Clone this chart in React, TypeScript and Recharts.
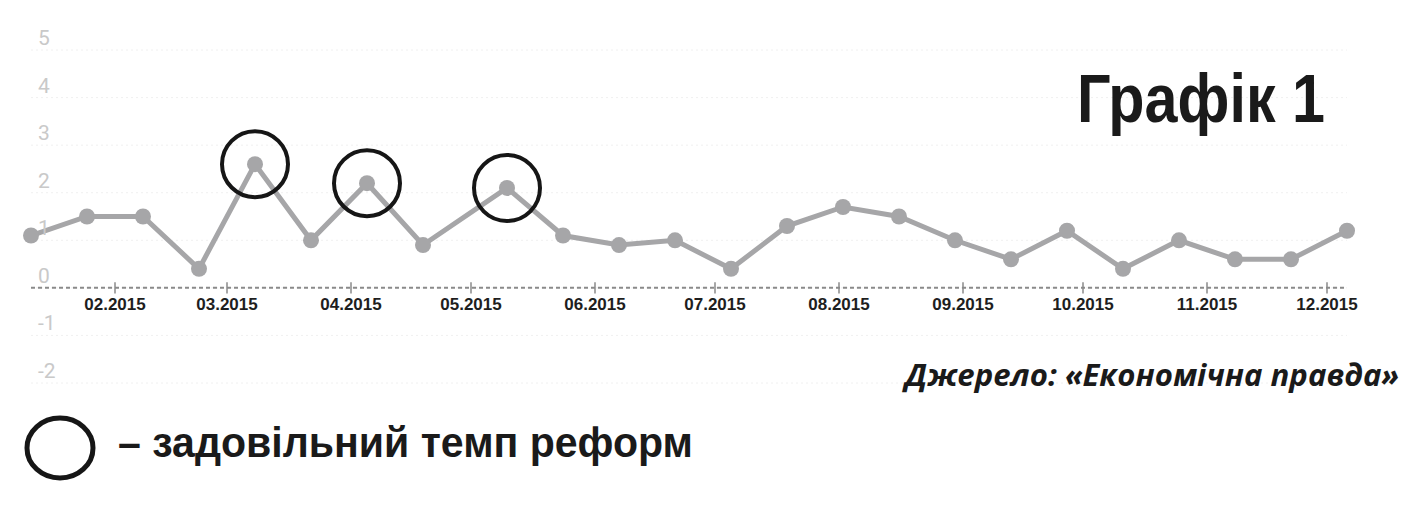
import React from "react";
import {
  LineChart,
  Line,
  XAxis,
  YAxis,
  CartesianGrid,
  ReferenceLine,
  ReferenceDot,
} from "recharts";

// точки раз на два тижні
const dates = [
  "2015-01-11", "2015-01-25", "2015-02-08", "2015-02-22", "2015-03-08", "2015-03-22",
  "2015-04-05", "2015-04-19", "2015-05-10", "2015-05-24", "2015-06-07", "2015-06-21",
  "2015-07-05", "2015-07-19", "2015-08-02", "2015-08-16", "2015-08-30", "2015-09-13",
  "2015-09-27", "2015-10-11", "2015-10-25", "2015-11-08", "2015-11-22", "2015-12-06",
];
const values = [
  1.1, 1.5, 1.5, 0.4, 2.6, 1.0, 2.2, 0.9, 2.1, 1.1, 0.9, 1.0,
  0.4, 1.3, 1.7, 1.5, 1.0, 0.6, 1.2, 0.4, 1.0, 0.6, 0.6, 1.2,
];
// точки з задовільним темпом реформ
const goodDates = ["2015-03-08", "2015-04-05", "2015-05-10"];

const monthStarts = [
  "2015-02-01", "2015-03-01", "2015-04-01", "2015-05-01", "2015-06-01", "2015-07-01",
  "2015-08-01", "2015-09-01", "2015-10-01", "2015-11-01", "2015-12-01",
];
const monthLabels = [
  "02.2015", "03.2015", "04.2015", "05.2015", "06.2015", "07.2015",
  "08.2015", "09.2015", "10.2015", "11.2015", "12.2015",
];
const yTicks = [-2, -1, 0, 1, 2, 3, 4, 5];

const toT = (d: string) => Date.parse(d + "T00:00:00Z");

const data = dates.map((d, i) => ({ t: toT(d), v: values[i] }));

const YTick = (props: any) => {
  const { x, y, payload } = props;
  return (
    <text x={x} y={y - 5} fill="#c9c9c9" fontSize={21} fontFamily="Roboto, sans-serif" textAnchor="start">
      {payload.value}
    </text>
  );
};

export default function App() {
  return (
    <div style={{ position: "relative", width: 1410, height: 511, background: "#fff" }}>
      <style>{`body{margin:0}`}</style>
      <LineChart width={1410} height={511} data={data} margin={{ top: 50, right: 63, bottom: 128, left: 31 }}>
        <CartesianGrid vertical={false} stroke="#f0f0f0" strokeDasharray="2 3" />
        <XAxis dataKey="t" type="number" domain={["dataMin", "dataMax"]} hide />
        <YAxis
          domain={[-2, 5]}
          ticks={yTicks}
          mirror
          axisLine={false}
          tickLine={false}
          tickSize={0}
          tickMargin={7}
          tick={YTick}
          interval={0}
        />
        <ReferenceLine y={0} stroke="#8a8a8a" strokeWidth={2} strokeDasharray="4 3" />
        {monthStarts.map((m, i) => (
          <ReferenceLine
            key={m}
            segment={[
              { x: toT(m), y: 0.12 },
              { x: toT(m), y: -0.12 },
            ]}
            stroke="#8a8a8a"
            strokeWidth={1.5}
            label={{
              value: monthLabels[i],
              position: "bottom",
              offset: 4,
              fill: "#1e1e1e",
              fontSize: 17,
              fontWeight: 700,
              fontFamily: "Liberation Sans, Arial, sans-serif",
            }}
          />
        ))}
        <Line
          type="linear"
          dataKey="v"
          stroke="#a6a6a8"
          strokeWidth={5}
          dot={{ r: 8, fill: "#a6a6a8", stroke: "none" }}
          activeDot={false}
          isAnimationActive={false}
        />
        {goodDates.map((d) => (
          <ReferenceDot
            key={d}
            x={toT(d)}
            y={values[dates.indexOf(d)]}
            r={33}
            fill="none"
            stroke="#161616"
            strokeWidth={4}
          />
        ))}
      </LineChart>
      <svg width={1410} height={511} style={{ position: "absolute", left: 0, top: 0, pointerEvents: "none" }}>
        <text
          x={1077}
          y={122}
          fontFamily="Liberation Sans, Arial, sans-serif"
          fontWeight={700}
          fontSize={68}
          fill="#1a1a1a"
          textLength={248}
          lengthAdjust="spacingAndGlyphs"
        >
          Графік 1
        </text>
        <text
          x={905}
          y={386}
          fontFamily="Open Sans, Noto Sans, sans-serif"
          fontWeight={700}
          fontStyle="italic"
          fontSize={31}
          fill="#1a1a1a"
          textLength={494}
          lengthAdjust="spacingAndGlyphs"
        >
          Джерело: «Економічна правда»
        </text>
        <ellipse cx={60} cy={448} rx={33} ry={30} fill="none" stroke="#161616" strokeWidth={5} />
        <text
          x={118}
          y={457}
          fontFamily="Liberation Sans, Arial, sans-serif"
          fontWeight={700}
          fontSize={42}
          fill="#1a1a1a"
          textLength={575}
          lengthAdjust="spacingAndGlyphs"
        >
          – задовільний темп реформ
        </text>
      </svg>
    </div>
  );
}
